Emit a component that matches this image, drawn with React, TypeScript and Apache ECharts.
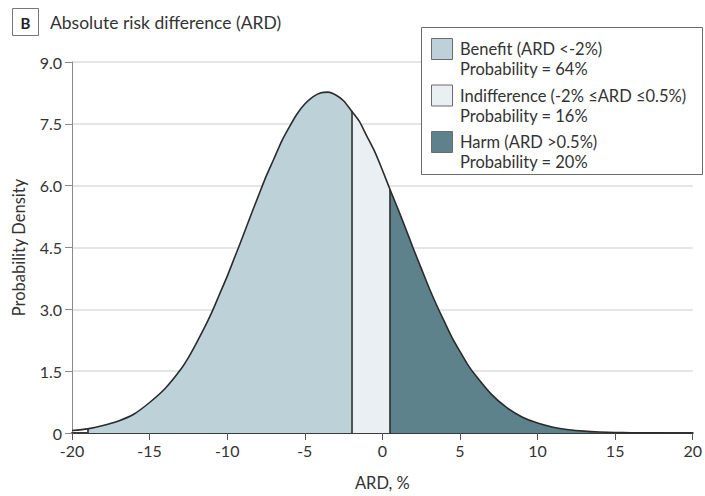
import React, { useEffect, useRef } from "react";
import * as echarts from "echarts";

// ARD (%) sample positions and the probability density
const ardValues = [
  -20, -19, -18, -17, -16, -15, -14, -13, -12.5, -12, -11.5, -11, -10.5, -10, -9.5, -9, -8.5, -8,
  -7.5, -7, -6.5, -6, -5.5, -5, -4.5, -4, -3.5, -3, -2.5, -2, -1.5, -1, -0.5, 0, 0.5, 1, 1.5, 2,
  2.5, 3, 3.5, 4, 4.5, 5, 5.5, 6, 7, 8, 9, 10, 11, 12, 13, 14, 15, 16, 17, 18, 19, 20,
];
const densityValues = [
  0.06, 0.1, 0.18, 0.29, 0.46, 0.74, 1.08, 1.54, 1.83, 2.17, 2.53, 2.92, 3.36, 3.8, 4.28, 4.76,
  5.26, 5.74, 6.22, 6.64, 7.07, 7.42, 7.74, 7.98, 8.15, 8.25, 8.27, 8.2, 8.06, 7.82, 7.57, 7.2,
  6.83, 6.38, 5.9, 5.44, 4.96, 4.47, 4.0, 3.53, 3.1, 2.7, 2.31, 1.98, 1.66, 1.4, 0.95, 0.62, 0.39,
  0.24, 0.14, 0.08, 0.045, 0.025, 0.013, 0.006, 0.003, 0.001, 0.0005, 0,
];

const regionNames = ["Benefit", "Indifference", "Harm"];
const regionRanges: [number, number][] = [
  [-19, -2],
  [-2, 0.5],
  [0.5, 20],
];
const regionColors = ["#bdd1d9", "#e9eff3", "#5e828c"];
const legendLines = [
  ["Benefit (ARD <-2%)", "Probability = 64%"],
  ["Indifference (-2% ≤ARD ≤0.5%)", "Probability = 16%"],
  ["Harm (ARD >0.5%)", "Probability = 20%"],
];
const boundaryMarks = [-19, -2, 0.5];

const FONT = "Lato, 'Open Sans', sans-serif";
const TXT = "#333333";
const SMOOTH = 0.25;

export default function App() {
  const ref = useRef<HTMLDivElement>(null);

  useEffect(() => {
    if (!ref.current) return;
    const chart = echarts.init(ref.current, null, { renderer: "svg" });
    const curve = ardValues.map((x, i) => [x, densityValues[i]]);
    const densityAt = (x: number) => densityValues[ardValues.indexOf(x)];

    const areaSeries = regionRanges.map(([a, b], i) => ({
      name: regionNames[i],
      type: "line",
      data: curve.filter((p) => p[0] >= a && p[0] <= b),
      smooth: SMOOTH,
      symbol: "none",
      lineStyle: { width: 0 },
      areaStyle: { color: regionColors[i], opacity: 1, origin: "start" },
      z: 2,
    }));

    const legendGraphics: any[] = [
      {
        type: "rect",
        shape: { x: 421.5, y: 27.5, width: 281, height: 147 },
        style: { fill: "#ffffff", stroke: "#6b6b6b", lineWidth: 1 },
        z: 10,
      },
    ];
    legendLines.forEach((lines, i) => {
      const top = 38 + i * 46.5;
      legendGraphics.push({
        type: "rect",
        shape: { x: 431.5, y: top + 0.5, width: 21, height: 21 },
        style: { fill: regionColors[i], stroke: "#6b6b6b", lineWidth: 1 },
        z: 11,
      });
      lines.forEach((t, j) => {
        legendGraphics.push({
          type: "text",
          x: 460,
          y: top + 11 + j * 20,
          style: {
            text: t,
            fill: TXT,
            font: `16.5px ${FONT}`,
            textVerticalAlign: "middle",
            verticalAlign: "middle",
          },
          z: 11,
        });
      });
    });

    chart.setOption({
      animation: false,
      textStyle: { fontFamily: FONT },
      grid: { left: 72, right: 10, top: 62, bottom: 60, containLabel: false },
      xAxis: {
        type: "value",
        min: -20,
        max: 20,
        interval: 5,
        name: "ARD, %",
        nameLocation: "middle",
        nameGap: 41,
        nameTextStyle: { fontSize: 16.5, color: TXT, fontFamily: FONT },
        axisLine: { onZero: false, lineStyle: { color: "#3a3a3a", width: 2 } },
        axisTick: { show: true, length: 7, lineStyle: { color: "#555", width: 1 } },
        axisLabel: { fontSize: 16, color: TXT, margin: 9, fontFamily: FONT },
        splitLine: { show: false },
      },
      yAxis: {
        type: "value",
        min: 0,
        max: 9,
        interval: 1.5,
        name: "Probability Density",
        nameLocation: "middle",
        nameGap: 45,
        nameTextStyle: { fontSize: 16.5, color: TXT, fontFamily: FONT },
        axisLine: { show: true, onZero: false, lineStyle: { color: "#8a8a8a", width: 1 } },
        axisTick: { show: true, length: 7, lineStyle: { color: "#8a8a8a" } },
        axisLabel: {
          fontSize: 16,
          color: TXT,
          margin: 10,
          fontFamily: FONT,
          formatter: (v: number) => (v === 0 ? "0" : v.toFixed(1)),
        },
        splitLine: { show: true, lineStyle: { color: "#dcdcdc", width: 1.5 } },
      },
      graphic: [
        {
          type: "rect",
          shape: { x: 12.5, y: 8.5, width: 26, height: 27 },
          style: { fill: "#ffffff", stroke: "#777", lineWidth: 1 },
        },
        {
          type: "text",
          x: 25.5,
          y: 22.5,
          style: {
            text: "B",
            fill: "#222",
            font: `bold 15px ${FONT}`,
            textAlign: "center",
            align: "center",
            textVerticalAlign: "middle",
            verticalAlign: "middle",
          },
        },
        {
          type: "text",
          x: 50,
          y: 22,
          style: {
            text: "Absolute risk difference (ARD)",
            fill: TXT,
            font: `17.5px ${FONT}`,
            textVerticalAlign: "middle",
            verticalAlign: "middle",
          },
        },
        ...legendGraphics,
      ],
      series: [
        ...areaSeries,
        {
          name: "Density",
          type: "line",
          data: curve,
          smooth: SMOOTH,
          symbol: "none",
          lineStyle: { color: "#2b2b2b", width: 1.6, join: "round" },
          z: 3,
          markLine: {
            silent: true,
            symbol: "none",
            label: { show: false },
            lineStyle: { color: "#2b2b2b", width: 1.6, type: "solid" },
            data: boundaryMarks.map((x) => [
              { coord: [x, 0] },
              { coord: [x, densityAt(x)] },
            ]),
          },
        },
      ],
    });
    return () => chart.dispose();
  }, []);

  return (
    <div
      ref={ref}
      style={{ position: "fixed", left: 0, top: 0, width: 705, height: 496, background: "#fff" }}
    />
  );
}
